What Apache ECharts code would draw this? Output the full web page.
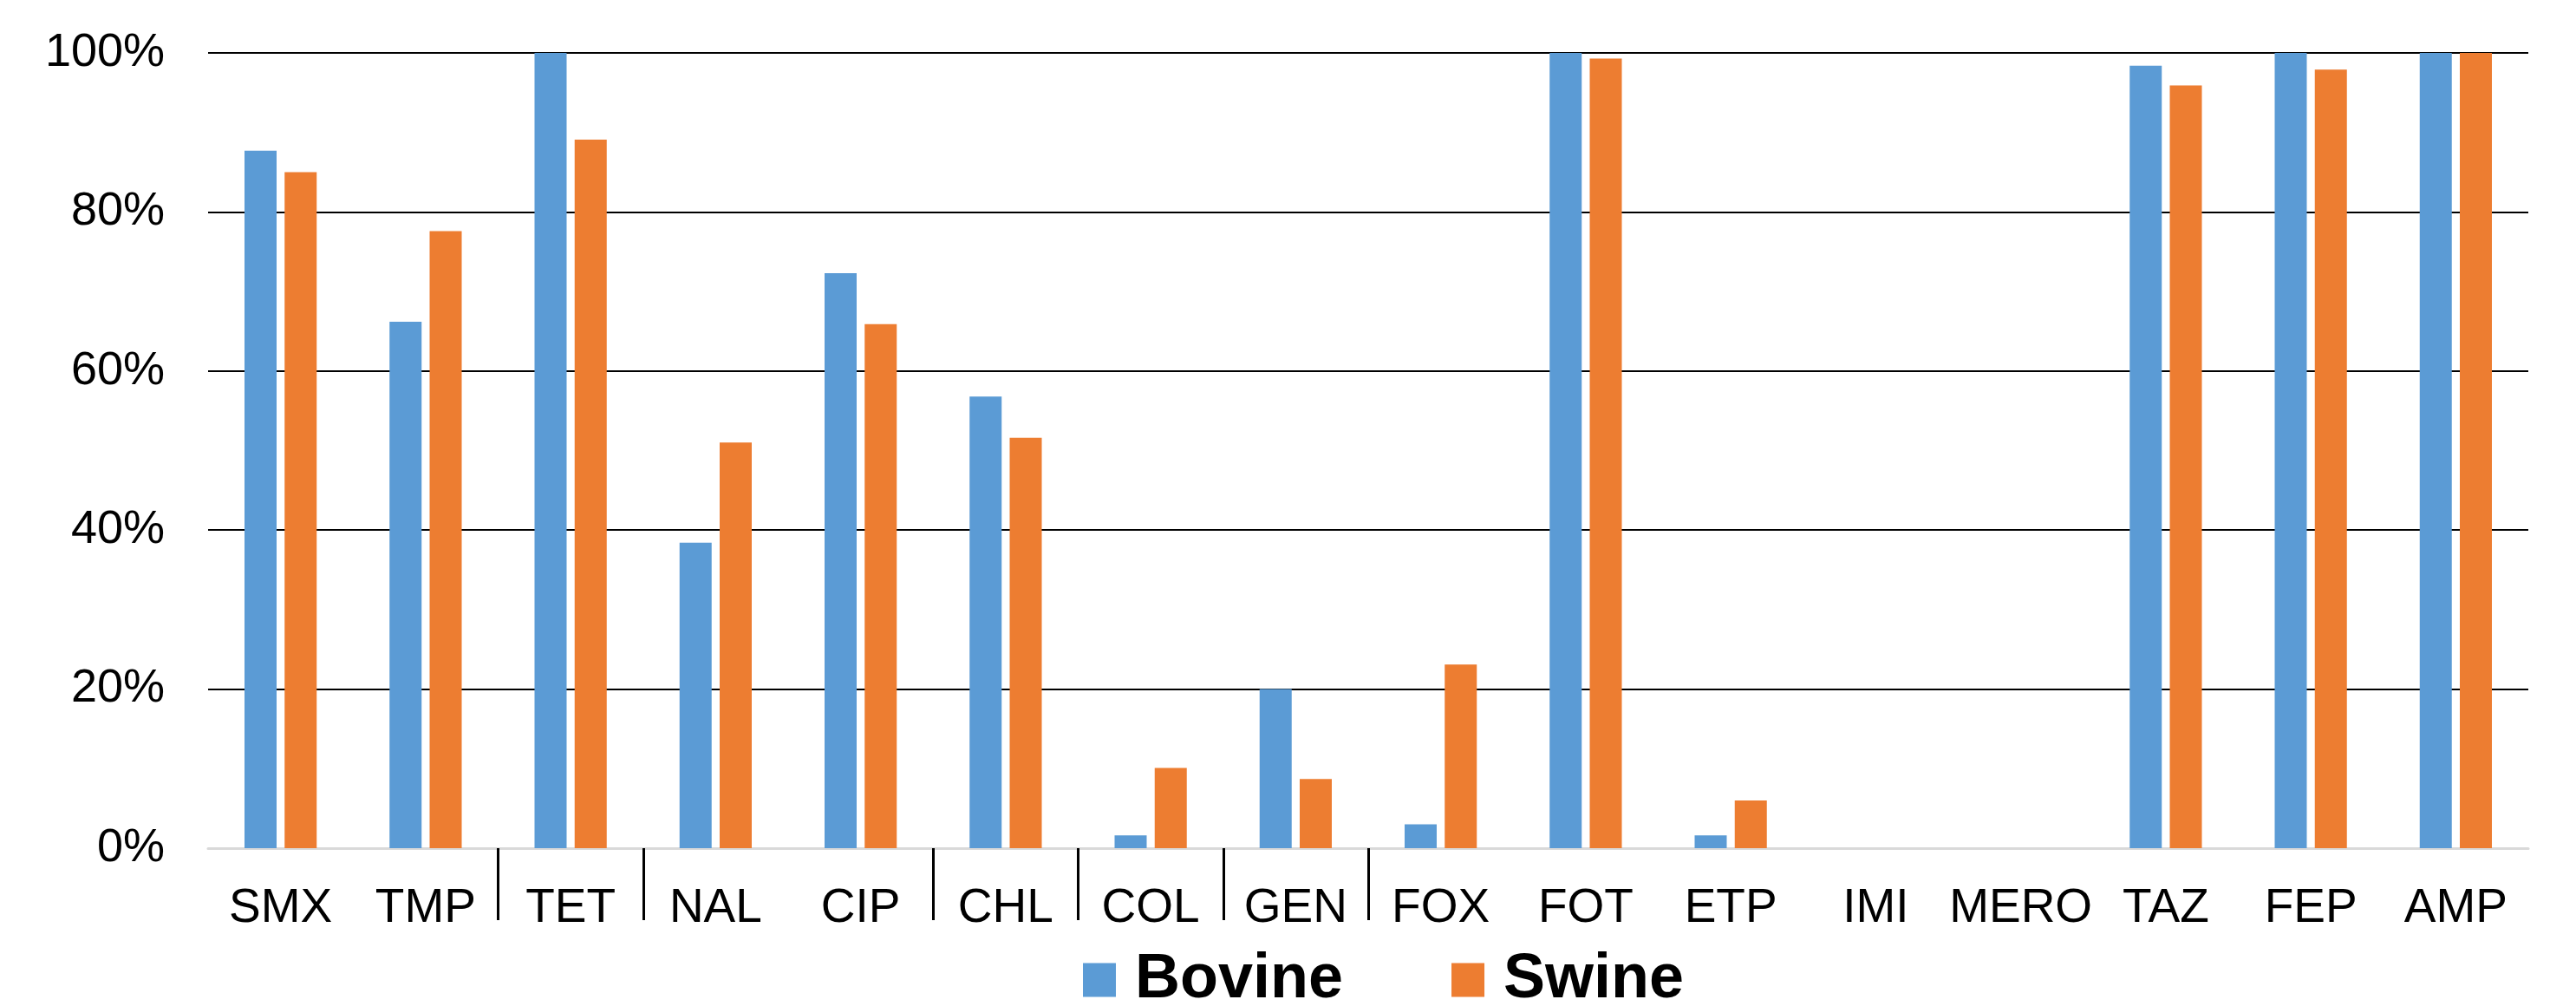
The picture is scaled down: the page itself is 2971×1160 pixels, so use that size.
<!DOCTYPE html>
<html>
<head>
<meta charset="UTF-8">
<title>Bovine vs Swine</title>
<script src="https://cdn.jsdelivr.net/npm/echarts@6/dist/echarts.min.js"></script>
<style>
  html, body { margin: 0; padding: 0; background: #fff; }
</style>
</head>
<body>
<div id="main" style="width: 2971px;height:1160px;"></div>

<script type="text/javascript">
// categories and values (percent)
var categories = ['SMX', 'TMP', 'TET', 'NAL', 'CIP', 'CHL', 'COL', 'GEN', 'FOX', 'FOT', 'ETP', 'IMI', 'MERO', 'TAZ', 'FEP', 'AMP'];
var bovine = [87.7, 66.2, 100, 38.4, 72.3, 56.8, 1.6, 20.0, 3.0, 100, 1.6, 0, 0, 98.4, 100, 100];
var swine = [85.0, 77.6, 89.1, 51.0, 65.9, 51.6, 10.1, 8.7, 23.1, 99.3, 6.0, 0, 0, 95.9, 97.9, 100];
var yTicks = [0, 20, 40, 60, 80, 100];
// group separators sit on these category boundaries
var separators = [2, 3, 5, 6, 7, 8];

var font = 'Arial, "Liberation Sans", sans-serif';
var myChart = echarts.init(document.getElementById('main'));

var option = {
    animation: false,
    grid: { left: 240, right: 55, top: 61, bottom: 182, containLabel: false },
    legend: {
        data: ['Bovine', 'Swine'],
        left: 1249,
        top: 1094,
        padding: 0,
        icon: 'rect',
        itemWidth: 38,
        itemHeight: 39,
        itemGap: 125,
        textStyle: {
            fontFamily: font,
            fontSize: 72,
            fontWeight: 'bold',
            color: '#000',
            padding: [0, 0, 0, 17]
        }
    },
    xAxis: [
        {
            type: 'category',
            data: categories,
            axisLine: { lineStyle: { color: '#d9d9d9', width: 3 } },
            axisTick: { show: false },
            axisLabel: { interval: 0, margin: 42, fontFamily: font, fontSize: 55, color: '#000' }
        },
        {
            // helper axis only for the boundary separators
            type: 'value',
            min: 0,
            max: categories.length,
            position: 'bottom',
            axisLine: { show: false },
            splitLine: { show: false },
            axisLabel: { show: false },
            axisTick: {
                show: true,
                length: 83,
                customValues: separators,
                lineStyle: { color: '#000', width: 3 }
            }
        }
    ],
    yAxis: {
        type: 'value',
        min: yTicks[0],
        max: yTicks[yTicks.length - 1],
        interval: 20,
        axisLine: { show: false },
        axisTick: { show: false },
        axisLabel: { formatter: '{value}%', margin: 50, fontFamily: font, fontSize: 54, color: '#000' },
        splitLine: { showMinLine: false, lineStyle: { color: '#000', width: 2 } }
    },
    series: [
        {
            name: 'Bovine',
            type: 'bar',
            barWidth: 37,
            barGap: '25%',
            itemStyle: { color: '#5B9BD5' },
            data: bovine
        },
        {
            name: 'Swine',
            type: 'bar',
            barWidth: 37,
            barGap: '25%',
            itemStyle: { color: '#ED7D31' },
            data: swine
        }
    ]
};

myChart.setOption(option);
</script>
</body>
</html>
